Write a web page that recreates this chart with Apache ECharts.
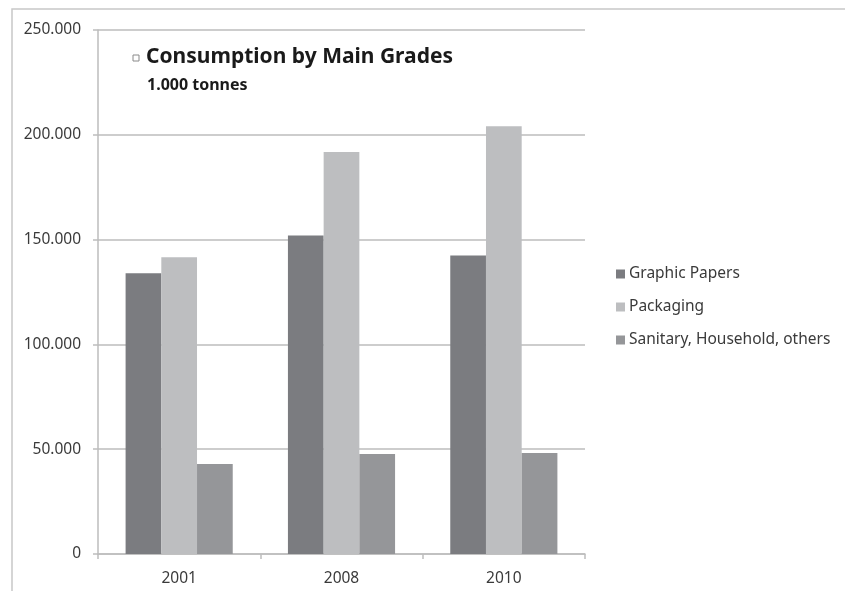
<!DOCTYPE html>
<html>
<head>
<meta charset="utf-8">
<script src="https://cdn.jsdelivr.net/npm/echarts@6/dist/echarts.min.js"></script>
<style>
html,body{margin:0;padding:0;background:#fff;}
#c{width:845px;height:591px;}
</style>
</head>
<body>
<div id="c"></div>
<script>
var categories = ['2001', '2008', '2010'];
var seriesNames = ['Graphic Papers', 'Packaging', 'Sanitary, Household, others'];
var graphicPapers = [134000, 151900, 142400];
var packaging = [141600, 191800, 204100];
var sanitary = [42900, 47700, 48200];
var seriesColors = ['#7b7c80', '#bdbec0', '#959699'];
var titleText = 'Consumption by Main Grades';
var subtitleText = '1.000 tonnes';

var chart = echarts.init(document.getElementById('c'));
var font = '"Noto Sans", sans-serif';
function fmt(v){
  if (v === 0) return '0';
  var s = String(Math.round(v));
  return s.replace(/\B(?=(\d{3})+(?!\d))/g, '.');
}
var values = [graphicPapers, packaging, sanitary];
var series = seriesNames.map(function(n, i){
  return {
    name: n, type: 'bar', data: values[i],
    barGap: '0%', barCategoryGap: '34%',
    itemStyle: { color: seriesColors[i] },
    emphasis: { disabled: true }
  };
});
chart.setOption({
  animation: false,
  textStyle: { fontFamily: font },
  graphic: [
    { type: 'rect', shape: { x: 12, y: 9, width: 900, height: 700 }, style: { fill: 'none', stroke: '#c8c8c8', lineWidth: 1.5 }, silent: true, z: -1 },
    { type: 'rect', shape: { x: 133, y: 55, width: 6, height: 6 }, style: { fill: '#fff', stroke: '#8a8a8a', lineWidth: 1 }, silent: true }
  ],
  title: [
    { text: titleText, left: 146, top: 47, padding: 0, textStyle: { fontFamily: font, fontSize: 21, fontWeight: 'bold', color: '#1a1a1a' } },
    { text: subtitleText, left: 147, top: 77, padding: 0, textStyle: { fontFamily: font, fontSize: 16, fontWeight: 'bold', color: '#1a1a1a' } }
  ],
  legend: {
    orient: 'vertical', left: 611, top: 261,
    itemWidth: 9, itemHeight: 9, itemGap: 17,
    icon: 'rect',
    textStyle: { fontFamily: font, fontSize: 15.5, color: '#3a3a3a', lineHeight: 15, padding: [0,0,0,-1] },
    data: seriesNames
  },
  grid: { left: 98, right: 260, top: 30, bottom: 37, containLabel: false },
  xAxis: {
    type: 'category', data: categories,
    axisLine: { lineStyle: { color: '#bdbdbd', width: 1.5 } },
    axisTick: { show: true, length: 5, alignWithLabel: false, lineStyle: { color: '#bdbdbd', width: 1.5 } },
    axisLabel: { fontFamily: font, fontSize: 15.5, color: '#3a3a3a', margin: 17 }
  },
  yAxis: {
    type: 'value', min: 0, max: 250000, interval: 50000,
    axisLine: { show: true, lineStyle: { color: '#bdbdbd', width: 1.5 } },
    axisTick: { show: true, length: 5, lineStyle: { color: '#bdbdbd', width: 1.5 } },
    splitLine: { show: true, lineStyle: { color: '#bdbdbd', width: 1.5 } },
    axisLabel: { fontFamily: font, fontSize: 15.5, color: '#3a3a3a', margin: 17, formatter: fmt }
  },
  series: series
});
</script>
</body>
</html>
